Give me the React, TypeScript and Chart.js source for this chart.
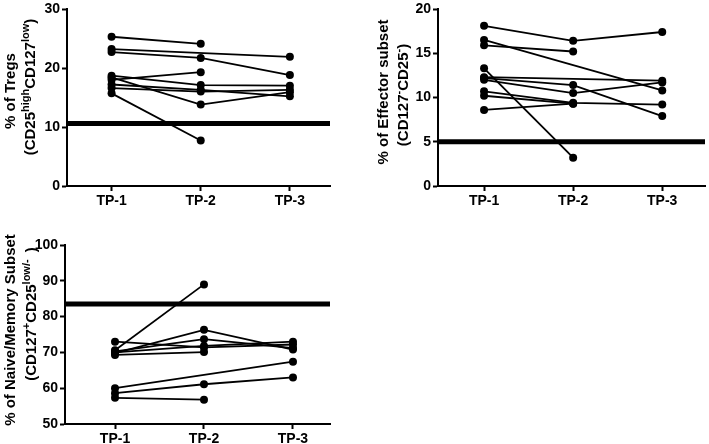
import React, { useEffect, useRef } from "react";
import { Chart, registerables } from "chart.js";

Chart.register(...registerables);

const timepoints = ["TP-1", "TP-2", "TP-3"];

// % of Tregs (CD25high CD127low)
const tregsSeries: (number | null)[][] = [
  [25.3, 24.1, null],
  [23.2, null, 21.9],
  [22.7, 21.7, 18.8],
  [18.0, 19.3, null],
  [18.7, 17.1, 17.0],
  [18.4, 13.8, 15.9],
  [17.2, 16.3, 15.2],
  [16.6, 16.0, 16.3],
  [15.7, 7.7, null],
];
const tregsThreshold = 10.6;

// % of Effector subset (CD127- CD25-)
const effectorSeries: (number | null)[][] = [
  [18.1, 16.4, 17.4],
  [15.9, 15.2, null],
  [16.5, null, 10.8],
  [13.3, 3.2, null],
  [12.3, null, 11.9],
  [12.2, 11.4, 7.9],
  [12.0, 10.5, 11.7],
  [10.7, 9.4, 9.2],
  [10.2, 9.3, null],
  [8.6, 9.3, null],
];
const effectorThreshold = 5.0;

// % of Naive/Memory subset (CD127+ CD25low/-)
const naiveSeries: (number | null)[][] = [
  [73.0, 71.4, 72.2],
  [70.6, 89.0, null],
  [69.8, 76.3, 70.8],
  [70.3, 73.7, 71.2],
  [70.0, 71.8, 73.0],
  [69.3, 70.1, null],
  [60.0, null, 67.4],
  [58.6, 61.1, 63.0],
  [57.3, 56.8, null],
];
const naiveThreshold = 83.5;

const FONT_FAMILY = "'Liberation Sans', Arial, Helvetica, sans-serif";
const MAIN_FONT = `bold 15px ${FONT_FAMILY}`;
const SUP_FONT = `bold 11px ${FONT_FAMILY}`;

type Seg = { t: string; sup?: boolean };
type TitleLine = { x: number; y: number; segs: Seg[] };

function makeTitlePlugin(lines: TitleLine[]) {
  return {
    id: "richTitle",
    afterDraw(chart: any) {
      const ctx = chart.ctx as CanvasRenderingContext2D;
      lines.forEach((line) => {
        ctx.save();
        ctx.translate(line.x, line.y);
        ctx.rotate(-Math.PI / 2);
        ctx.fillStyle = "#000";
        ctx.textBaseline = "alphabetic";
        ctx.textAlign = "left";
        let total = 0;
        const widths = line.segs.map((s) => {
          ctx.font = s.sup ? SUP_FONT : MAIN_FONT;
          const w = ctx.measureText(s.t).width;
          total += w;
          return w;
        });
        let cx = -total / 2;
        line.segs.forEach((s, i) => {
          ctx.font = s.sup ? SUP_FONT : MAIN_FONT;
          ctx.fillText(s.t, cx, s.sup ? -6 : 0);
          cx += widths[i];
        });
        ctx.restore();
      });
    },
  };
}

type PanelProps = {
  left: number;
  top: number;
  width: number;
  height: number;
  areaLeft: number;
  areaRight: number;
  areaTop: number;
  areaBottom: number;
  series: (number | null)[][];
  threshold: number;
  yMin: number;
  yMax: number;
  yStep: number;
  xMin: number;
  xMax: number;
  titles: TitleLine[];
};

function Panel(p: PanelProps) {
  const ref = useRef<HTMLCanvasElement>(null);
  useEffect(() => {
    if (!ref.current) return;
    const datasets: any[] = p.series.map((s) => ({
      data: s
        .map((v, i) => (v === null ? null : { x: i + 1, y: v }))
        .filter((d) => d !== null),
      showLine: true,
      borderColor: "#000",
      backgroundColor: "#000",
      borderWidth: 1.8,
      pointRadius: 4,
      pointHoverRadius: 4,
      pointBorderWidth: 0,
      tension: 0,
    }));
    datasets.push({
      data: [
        { x: p.xMin, y: p.threshold },
        { x: p.xMax, y: p.threshold },
      ],
      showLine: true,
      borderColor: "#000",
      backgroundColor: "#000",
      borderWidth: 5,
      borderCapStyle: "butt",
      pointRadius: 0,
      pointHoverRadius: 0,
      clip: false,
    });
    const tickFont = { family: FONT_FAMILY, size: 14, weight: "bold" as const, lineHeight: 1 };
    const chart = new Chart(ref.current, {
      type: "scatter",
      data: { datasets },
      options: {
        responsive: false,
        animation: false,
        devicePixelRatio: 1,
        layout: {
          padding: { left: 0, top: p.areaTop, right: p.width - p.areaRight, bottom: 0 },
        },
        plugins: {
          legend: { display: false },
          tooltip: { enabled: false },
        },
        scales: {
          x: {
            type: "linear",
            min: p.xMin,
            max: p.xMax,
            afterBuildTicks: (s: any) => {
              s.ticks = timepoints.map((_, i) => ({ value: i + 1 }));
            },
            afterFit: (s: any) => {
              s.height = p.height - p.areaBottom;
            },
            ticks: {
              callback: (v: any) => timepoints[Math.round(Number(v)) - 1] ?? "",
              font: tickFont,
              color: "#000",
              padding: 3,
              maxRotation: 0,
              autoSkip: false,
            },
            grid: {
              drawOnChartArea: false,
              drawTicks: true,
              tickLength: 5,
              tickColor: "#000",
              tickWidth: 2,
            },
            border: { display: true, color: "#000", width: 2 },
          },
          y: {
            type: "linear",
            min: p.yMin,
            max: p.yMax,
            afterFit: (s: any) => {
              s.width = p.areaLeft;
            },
            ticks: {
              stepSize: p.yStep,
              font: tickFont,
              color: "#000",
              padding: 2,
            },
            grid: {
              drawOnChartArea: false,
              drawTicks: true,
              tickLength: 5,
              tickColor: "#000",
              tickWidth: 2,
            },
            border: { display: true, color: "#000", width: 2 },
          },
        },
      },
      plugins: [makeTitlePlugin(p.titles)],
    } as any);
    return () => chart.destroy();
  }, []);
  return (
    <canvas
      ref={ref}
      width={p.width}
      height={p.height}
      style={{
        position: "absolute",
        left: p.left,
        top: p.top,
        width: p.width,
        height: p.height,
        display: "block",
      }}
    />
  );
}

export default function App() {
  return (
    <div
      style={{
        position: "absolute",
        left: 0,
        top: 0,
        width: 709,
        height: 444,
        background: "#fff",
        overflow: "hidden",
      }}
    >
      <Panel
        left={0}
        top={0}
        width={340}
        height={215}
        areaLeft={67}
        areaRight={330}
        areaTop={7}
        areaBottom={186}
        series={tregsSeries}
        threshold={tregsThreshold}
        yMin={0}
        yMax={30}
        yStep={10}
        xMin={0.5}
        xMax={3.45}
        titles={[
          { x: 15, y: 91, segs: [{ t: "% of Tregs" }] },
          {
            x: 35,
            y: 87,
            segs: [
              { t: "(CD25" },
              { t: "high", sup: true },
              { t: "CD127" },
              { t: "low", sup: true },
              { t: ")" },
            ],
          },
        ]}
      />
      <Panel
        left={360}
        top={0}
        width={349}
        height={215}
        areaLeft={78}
        areaRight={345}
        areaTop={6}
        areaBottom={186}
        series={effectorSeries}
        threshold={effectorThreshold}
        yMin={0}
        yMax={20}
        yStep={5}
        xMin={0.483}
        xMax={3.48}
        titles={[
          { x: 28, y: 92, segs: [{ t: "% of Effector subset" }] },
          {
            x: 48,
            y: 95,
            segs: [
              { t: "(CD127" },
              { t: "-", sup: true },
              { t: "CD25" },
              { t: "-", sup: true },
              { t: ")" },
            ],
          },
        ]}
      />
      <Panel
        left={0}
        top={225}
        width={340}
        height={219}
        areaLeft={65}
        areaRight={330}
        areaTop={20}
        areaBottom={199}
        series={naiveSeries}
        threshold={naiveThreshold}
        yMin={50}
        yMax={100}
        yStep={10}
        xMin={0.438}
        xMax={3.416}
        titles={[
          { x: 15, y: 105, segs: [{ t: "% of Naive/Memory Subset" }] },
          {
            x: 36,
            y: 89,
            segs: [
              { t: "(CD127" },
              { t: "+", sup: true },
              { t: "CD25" },
              { t: "low/- ", sup: true },
              { t: " )" },
            ],
          },
        ]}
      />
    </div>
  );
}
